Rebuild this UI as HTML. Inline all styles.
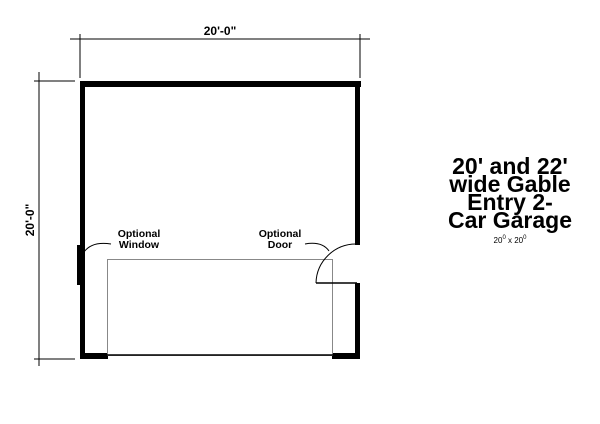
<!DOCTYPE html>
<html><head><style>
body{margin:0;background:#fff;width:600px;height:419px;overflow:hidden}
</style></head><body>
<svg width="600" height="419" xmlns="http://www.w3.org/2000/svg" font-family="Liberation Sans, sans-serif">
<rect width="600" height="419" fill="#fff"/>
<g stroke="#000" stroke-width="1" fill="none">
<line x1="70" y1="39" x2="370" y2="39"/>
<line x1="80" y1="34" x2="80" y2="78"/>
<line x1="360" y1="34" x2="360" y2="78"/>
<line x1="39" y1="72" x2="39" y2="366"/>
<line x1="34" y1="81" x2="75" y2="81"/>
<line x1="34" y1="359" x2="75" y2="359"/>
</g>
<text x="220" y="35" font-size="12" font-weight="bold" text-anchor="middle">20'-0"</text>
<text transform="translate(34,220) rotate(-90)" font-size="12" font-weight="bold" text-anchor="middle">20'-0"</text>
<g fill="#000">
<rect x="80" y="81" width="281" height="6"/>
<rect x="80" y="81" width="5" height="278"/>
<rect x="355" y="81" width="5" height="164"/>
<rect x="355" y="283" width="5" height="76"/>
<rect x="80" y="353" width="28" height="6"/>
<rect x="332" y="353" width="28" height="6"/>
<rect x="77" y="245" width="5" height="40"/>
</g>
<rect x="107.5" y="259.5" width="225" height="96" fill="none" stroke="#888" stroke-width="1"/>
<line x1="107" y1="355" x2="333" y2="355" stroke="#000" stroke-width="1.5"/>
<line x1="316" y1="283" x2="357" y2="283" stroke="#000" stroke-width="1.5"/>
<path d="M316 283 A40 40 0 0 1 356 244" fill="none" stroke="#000" stroke-width="1"/>
<path d="M84 252 Q92 241 111 244" fill="none" stroke="#000" stroke-width="1"/>
<path d="M305 244 Q322 241 329 251" fill="none" stroke="#000" stroke-width="1"/>
<g font-size="10.5" font-weight="bold" text-anchor="middle">
<text x="139" y="237">Optional</text><text x="139" y="248">Window</text>
<text x="280" y="237">Optional</text><text x="280" y="248">Door</text>
</g>
<g font-size="23" font-weight="bold" text-anchor="middle">
<text x="510" y="174">20' and 22'</text>
<text x="510" y="192">wide Gable</text>
<text x="510" y="210">Entry 2-</text>
<text x="510" y="228">Car Garage</text>
</g>
<g font-size="8" text-anchor="middle">
<text x="510" y="243">20<tspan dy="-4" font-size="6">0</tspan><tspan dy="4"> x 20</tspan><tspan dy="-4" font-size="6">0</tspan></text>
</g>
</svg>
</body></html>
